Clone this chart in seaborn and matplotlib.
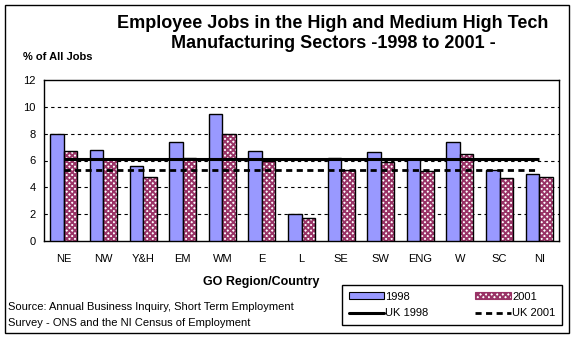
import numpy as np
import pandas as pd
import matplotlib
matplotlib.use("Agg")
import matplotlib.pyplot as plt
from matplotlib.patches import Rectangle, Patch
from matplotlib.lines import Line2D
import seaborn as sns

regions = ["NE", "NW", "Y&H", "EM", "WM", "E", "L", "SE", "SW", "ENG", "W", "SC", "NI"]
jobs_1998 = [8.0, 6.8, 5.6, 7.4, 9.5, 6.7, 2.0, 6.2, 6.6, 6.1, 7.4, 5.3, 5.0]
jobs_2001 = [6.7, 6.1, 4.8, 6.2, 8.0, 6.0, 1.7, 5.3, 5.9, 5.2, 6.5, 4.7, 4.8]
uk_1998 = [6.1, 6.1, 6.1, 6.1, 6.1, 6.1, 6.1, 6.1, 6.1, 6.1, 6.1, 6.1, 6.1]
uk_2001 = [5.3, 5.3, 5.3, 5.3, 5.3, 5.3, 5.3, 5.3, 5.3, 5.3, 5.3, 5.3, 5.3]
years = ["1998", "2001"]
yticks = [0, 2, 4, 6, 8, 10, 12]

MAROON = "#993366"
sns.set_style("white")
plt.rcParams["font.family"] = ["Liberation Sans", "DejaVu Sans"]
plt.rcParams["text.color"] = "black"
plt.rcParams["xtick.color"] = "black"
plt.rcParams["ytick.color"] = "black"
plt.rcParams["hatch.color"] = MAROON
plt.rcParams["hatch.linewidth"] = 1.4

df = pd.DataFrame({
    "Region": regions * 2,
    "Year": [years[0]] * len(regions) + [years[1]] * len(regions),
    "Value": jobs_1998 + jobs_2001,
})

fig = plt.figure(figsize=(5.76, 3.40), dpi=100)
ax = fig.add_axes([44 / 576, 1 - 241 / 340, (559 - 44) / 576, (241 - 80) / 340])

sns.barplot(data=df, x="Region", y="Value", hue="Year", order=regions,
            hue_order=years, palette={"1998": "#9999FF", "2001": "white"},
            width=0.68, gap=0, edgecolor="black", linewidth=1.0,
            saturation=1, legend=False, ax=ax, zorder=3)

n = len(regions)
for p in list(ax.patches[n:2 * n]):
    p.set_facecolor("white")
    p.set_edgecolor(MAROON)
    p.set_linewidth(0)
    p.set_hatch("xxxxxx")
    ax.add_patch(Rectangle((p.get_x(), p.get_y()), p.get_width(), p.get_height(),
                           fill=False, edgecolor="black", linewidth=1.0, zorder=3.5))

pos = np.arange(n)
ax.plot(pos, uk_1998, color="black", lw=2.2, zorder=4, solid_capstyle="butt")
ax.plot(pos, uk_2001, color="black", lw=2.0, linestyle=(0, (2.2, 1.6)), zorder=4)

ax.set_ylim(0, 12)
ax.set_xlim(-0.5, n - 0.5)
ax.set_yticks(yticks)
ax.set_yticklabels([str(t) for t in yticks], fontsize=8)
ax.set_xticks(pos)
ax.set_xticklabels(regions, fontsize=8)
ax.set_xticks(np.arange(-0.5, n, 1.0), minor=True)
ax.tick_params(axis="x", which="major", length=0, pad=9)
ax.tick_params(axis="x", which="minor", length=4, width=1, color="black", direction="out")
ax.tick_params(axis="y", length=4, width=1, color="black", direction="out", pad=2)
ax.set_xlabel("")
ax.set_ylabel("")
for t in [2, 4, 6, 8, 10]:
    ax.axhline(t, color="black", lw=0.8, linestyle=(0, (3, 3)), zorder=1)
for s in ax.spines.values():
    s.set_visible(True)
    s.set_color("black")
    s.set_linewidth(1.0)

fig.text(333 / 576, 1 - 23 / 340, "Employee Jobs in the High and Medium High Tech",
         ha="center", va="center", fontsize=13, fontweight="bold")
fig.text(333 / 576, 1 - 44 / 340, "Manufacturing Sectors -1998 to 2001 -",
         ha="center", va="center", fontsize=13, fontweight="bold")
fig.text(23 / 576, 1 - 57 / 340, "% of All Jobs", ha="left", va="center",
         fontsize=8, fontweight="bold")
fig.text(203 / 576, 1 - 282 / 340, "GO Region/Country", ha="left", va="center",
         fontsize=9, fontweight="bold")
fig.text(8 / 576, 1 - 307 / 340, "Source: Annual Business Inquiry, Short Term Employment",
         ha="left", va="center", fontsize=8)
fig.text(8 / 576, 1 - 323 / 340, "Survey - ONS and the NI Census of Employment",
         ha="left", va="center", fontsize=8)

h1998 = Patch(facecolor="#9999FF", edgecolor="black", linewidth=0.8)
h2001 = Patch(facecolor="white", edgecolor=MAROON, linewidth=0.8, hatch="xxxxxx")
huk98 = Line2D([], [], color="black", lw=2.2)
huk01 = Line2D([], [], color="black", lw=2.0, linestyle=(0, (2.2, 1.6)))
leg = fig.legend([h1998, huk98, h2001, huk01], ["1998", "UK 1998", "2001", "UK 2001"],
                 ncol=2, loc="center", bbox_to_anchor=(342 / 576, 1 - 326 / 340, 220 / 576, 42 / 340),
                 bbox_transform=fig.transFigure, mode="expand", fontsize=8,
                 frameon=True, fancybox=False, edgecolor="black", framealpha=1,
                 handlelength=3.2, handleheight=0.6, handletextpad=0.1,
                 columnspacing=1.5, borderaxespad=0, borderpad=0.6, labelspacing=0.6)
leg.get_frame().set_linewidth(1.0)

fig.patches.append(Rectangle((5 / 576, 1 - 333 / 340), 564 / 576, 328 / 340,
                             transform=fig.transFigure, fill=False,
                             edgecolor="black", linewidth=1.0))

fig.savefig("out.png", dpi=100, facecolor="white")
